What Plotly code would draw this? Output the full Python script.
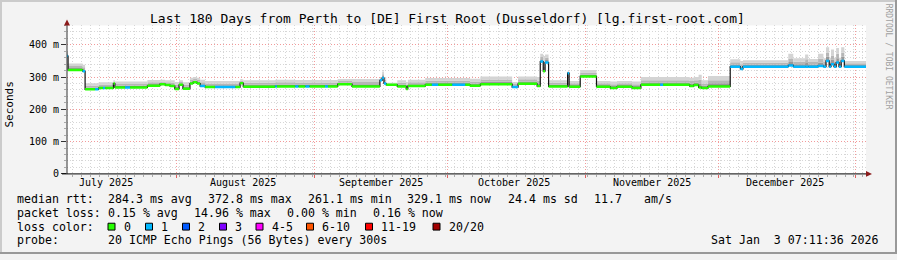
import plotly.graph_objects as go

W, H = 897, 260

# ---------------- data ----------------
start_time = "2025-07-07 07:11:36"
end_time = "2026-01-03 07:11:36"

seg_start = [
    "2025-07-07 07:00", "2025-07-07 13:00", "2025-07-10 20:00", "2025-07-11 09:00",
    "2025-07-13 15:00", "2025-07-14 10:00", "2025-07-15 10:00", "2025-07-15 21:00",
    "2025-07-17 18:00", "2025-07-18 02:00", "2025-07-20 09:00", "2025-07-21 12:00",
    "2025-07-25 10:00", "2025-07-28 06:00", "2025-07-29 10:00", "2025-07-30 12:00",
    "2025-07-31 14:00", "2025-08-01 13:00", "2025-08-02 10:00", "2025-08-04 00:00",
    "2025-08-04 17:00", "2025-08-05 14:00", "2025-08-06 07:00", "2025-08-07 10:00",
    "2025-08-09 16:00", "2025-08-14 05:00", "2025-08-15 07:00", "2025-08-16 00:00",
    "2025-08-23 05:00", "2025-08-23 14:00", "2025-08-27 17:00", "2025-08-28 10:00",
    "2025-08-30 00:00", "2025-08-30 22:00", "2025-09-03 10:00", "2025-09-04 02:00",
    "2025-09-06 07:00", "2025-09-09 12:00", "2025-09-15 19:00", "2025-09-16 07:00",
    "2025-09-16 17:00", "2025-09-17 05:00", "2025-09-19 17:00", "2025-09-21 17:00",
    "2025-09-22 02:00", "2025-09-26 00:00", "2025-09-27 12:00", "2025-09-28 22:00",
    "2025-10-02 02:00", "2025-10-05 00:00", "2025-10-06 02:00", "2025-10-08 10:00",
    "2025-10-15 14:00", "2025-10-16 22:00", "2025-10-21 05:00", "2025-10-21 22:00",
    "2025-10-22 14:00", "2025-10-23 00:00", "2025-10-23 19:00", "2025-10-28 02:00",
    "2025-10-28 10:00", "2025-10-30 22:00", "2025-11-03 14:00", "2025-11-06 17:00",
    "2025-11-08 05:00", "2025-11-11 14:00", "2025-11-13 14:00", "2025-11-17 22:00",
    "2025-11-18 14:00", "2025-11-24 14:00", "2025-11-25 12:00", "2025-11-26 14:00",
    "2025-11-27 07:00", "2025-11-28 17:00", "2025-12-03 17:00", "2025-12-06 00:00",
    "2025-12-06 14:00", "2025-12-16 19:00", "2025-12-17 22:00", "2025-12-20 14:00",
    "2025-12-21 07:00", "2025-12-23 12:00", "2025-12-24 17:00", "2025-12-25 07:00",
    "2025-12-26 00:00", "2025-12-26 10:00", "2025-12-27 02:00", "2025-12-27 14:00",
    "2025-12-28 05:00", "2025-12-28 17:00", "2025-12-29 10:00",
]
median_ms = [
    365, 322, 318, 262, 262, 266, 266, 266, 280, 268, 268, 268, 273, 278, 275, 272,
    263, 276, 264, 280, 284, 280, 272, 269, 269, 269, 281, 270, 271, 271, 271, 271,
    271, 271, 271, 271, 278, 271, 290, 297, 280, 276, 271, 263, 272, 276, 276, 276,
    276, 276, 273, 278, 269, 279, 272, 348, 318, 345, 271, 312, 270, 302, 270, 266,
    270, 266, 276, 276, 276, 272, 275, 268, 266, 271, 332, 325, 332, 336, 332, 332,
    332, 334, 332, 350, 332, 340, 332, 345, 332, 350, 332,
]
smoke_top_ms = [
    380, 342, 338, 281, 281, 284, 284, 284, 290, 286, 286, 286, 291, 292, 290, 290,
    285, 290, 284, 298, 300, 298, 292, 288, 288, 288, 293, 290, 292, 292, 291, 291,
    291, 291, 291, 291, 294, 294, 300, 317, 300, 282, 290, 285, 292, 297, 297, 297,
    297, 297, 295, 302, 285, 302, 300, 372, 365, 370, 290, 318, 288, 322, 288, 286,
    288, 286, 300, 300, 300, 298, 300, 307, 290, 303, 355, 350, 352, 372, 358, 370,
    356, 372, 358, 392, 360, 385, 360, 390, 360, 392, 350,
]
loss_pings = [
    1, 0, 1, 0, 1, 0, 1, 0, 0, 0, 1, 0, 0, 0, 0, 0,
    0, 0, 0, 0, 0, 0, 1, 0, 1, 0, 0, 0, 1, 0, 1, 0,
    1, 0, 1, 0, 0, 0, 1, 1, 1, 0, 0, 0, 0, 0, 1, 0,
    1, 0, 0, 0, 1, 0, 0, 1, 0, 1, 0, 1, 0, 0, 0, 0,
    0, 0, 0, 1, 0, 0, 0, 0, 0, 0, 1, 1, 1, 1, 1, 1,
    1, 1, 1, 1, 1, 1, 1, 1, 1, 1, 1,
]

month_starts = ["2025-08-01", "2025-09-01", "2025-10-01", "2025-11-01", "2025-12-01", "2026-01-01"]
month_label_pos = ["2025-07-16 00:00", "2025-08-16 00:00", "2025-09-16 00:00",
                   "2025-10-16 00:00", "2025-11-16 00:00", "2025-12-16 00:00"]
month_labels = ["July 2025", "August 2025", "September 2025",
                "October 2025", "November 2025", "December 2025"]

y_tick_vals = [0, 100, 200, 300, 400]
y_tick_text = ["0", "100 m", "200 m", "300 m", "400 m"]

loss_labels = ["0", "1", "2", "3", "4-5", "6-10", "11-19", "20/20"]
loss_colors = ["#26ff00", "#00b8ff", "#0059ff", "#7e00ff", "#ff00ff", "#ff5500", "#ff0000", "#a10000"]
loss_bucket_max = [0, 1, 2, 3, 5, 10, 19, 20]

stats_rtt = ["median rtt:", "284.3 ms avg", "372.8 ms max", "261.1 ms min",
             "329.1 ms now", "24.4 ms sd", "11.7", "am/s"]
stats_loss = ["packet loss:", "0.15 % avg", "14.96 % max", "0.00 % min", "0.16 % now"]
probe_text = ["probe:", "20 ICMP Echo Pings (56 Bytes) every 300s"]
stamp_text = "Sat Jan\u00a0\u00a03 07:11:36 2026"
title_text = "Last 180 Days from Perth to [DE] First Root (Dusseldorf) [lg.first-root.com]"

# ---------------- helpers ----------------
MONO = "DejaVu Sans Mono"


def px(x):
    return x / W


def py(y):
    return 1 - y / H


def bucket(n):
    for i, m in enumerate(loss_bucket_max):
        if n <= m:
            return i
    return len(loss_bucket_max) - 1


xs = seg_start + [end_time]
med = median_ms + [median_ms[-1]]
top = smoke_top_ms + [smoke_top_ms[-1]]
band1 = [m + 0.3 * (t - m) for m, t in zip(med, top)]
band2 = [m + 0.6 * (t - m) for m, t in zip(med, top)]

fig = go.Figure()

# smoke
fig.add_trace(go.Scatter(x=xs, y=med, mode="lines", line=dict(width=0, shape="hv"),
                         hoverinfo="skip", showlegend=False))
for yy, col in [(band1, "#989898"), (band2, "#b6b6b6"), (top, "#d4d4d4")]:
    fig.add_trace(go.Scatter(x=xs, y=yy, mode="lines", fill="tonexty", fillcolor=col,
                             line=dict(width=0, shape="hv"), hoverinfo="skip", showlegend=False))

# median transitions
fig.add_trace(go.Scatter(x=xs, y=med, mode="lines", line=dict(width=1.2, shape="hv", color="#111111"),
                         hoverinfo="skip", showlegend=False))

# colored median segments by loss
for b, color in enumerate(loss_colors):
    sx, sy = [], []
    for i, n in enumerate(loss_pings):
        if bucket(n) == b:
            sx += [xs[i], xs[i + 1], None]
            sy += [med[i], med[i], None]
    if sx:
        fig.add_trace(go.Scatter(x=sx, y=sy, mode="lines", line=dict(width=2.5, color=color),
                                 hoverinfo="skip", showlegend=False))

GRID_MINOR = "#d6d6d6"
GRID_MAJOR = "#f29a9a"
DASH = "1px,2px"

fig.update_layout(
    width=W, height=H, margin=dict(l=0, r=0, t=0, b=0),
    paper_bgcolor="#f3f3f3", plot_bgcolor="#ffffff", showlegend=False,
    xaxis=dict(
        type="date", range=[start_time, end_time], domain=[px(67), px(866)],
        tickmode="array", tickvals=month_starts, showticklabels=False,
        showgrid=True, gridcolor=GRID_MAJOR, griddash=DASH, gridwidth=1,
        ticks="outside", ticklen=3, tickcolor="#e06060", zeroline=False, showline=False,
        minor=dict(tick0="2025-07-08 14:00", dtick=2 * 86400000, showgrid=True,
                   gridcolor=GRID_MINOR, griddash=DASH, ticks="outside", ticklen=2,
                   tickcolor="#aaaaaa"),
    ),
    yaxis=dict(
        range=[0, 460], domain=[py(178), py(26)],
        tickmode="array", tickvals=y_tick_vals, ticktext=y_tick_text,
        tickfont=dict(family=MONO, size=10, color="#000"),
        showgrid=True, gridcolor=GRID_MAJOR, griddash=DASH, gridwidth=1,
        ticks="outside", ticklen=5, tickcolor="#333", zeroline=False, showline=False,
        minor=dict(dtick=20, showgrid=True, gridcolor=GRID_MINOR, griddash=DASH,
                   ticks="outside", ticklen=2, tickcolor="#aaaaaa"),
    ),
)

shapes = []
# axis lines
shapes.append(dict(type="line", xref="paper", yref="paper", x0=px(67), x1=px(67),
                   y0=py(178), y1=py(24), line=dict(color="#333", width=1)))
shapes.append(dict(type="line", xref="paper", yref="paper", x0=px(62), x1=px(868),
                   y0=py(178), y1=py(178), line=dict(color="#000", width=1)))
# arrows
shapes.append(dict(type="path", xref="paper", yref="paper",
                   path=f"M {px(64)},{py(26)} L {px(67)},{py(20)} L {px(70)},{py(26)} Z",
                   fillcolor="#8b1a1a", line=dict(width=0)))
shapes.append(dict(type="path", xref="paper", yref="paper",
                   path=f"M {px(866)},{py(175)} L {px(872)},{py(178)} L {px(866)},{py(181)} Z",
                   fillcolor="#8b1a1a", line=dict(width=0)))
# frame shading
shapes.append(dict(type="rect", xref="paper", yref="paper", x0=0, x1=1, y0=py(2), y1=1,
                   fillcolor="#cbcbcb", line=dict(width=0)))
shapes.append(dict(type="rect", xref="paper", yref="paper", x0=0, x1=px(2), y0=0, y1=1,
                   fillcolor="#cbcbcb", line=dict(width=0)))
shapes.append(dict(type="rect", xref="paper", yref="paper", x0=0, x1=1, y0=0, y1=py(258),
                   fillcolor="#999999", line=dict(width=0)))
shapes.append(dict(type="rect", xref="paper", yref="paper", x0=px(895), x1=1, y0=0, y1=1,
                   fillcolor="#999999", line=dict(width=0)))

ann = []


def text(x, y, s, size=11.6, anchor="left", color="#000", angle=0, family=MONO):
    ann.append(dict(xref="paper", yref="paper", x=px(x), y=py(y), text=s, showarrow=False,
                    xanchor=anchor, yanchor="middle", textangle=angle,
                    font=dict(family=family, size=size, color=color), borderpad=0))


text(447, 19, title_text, size=13, anchor="center")
text(10, 107, "Seconds", size=11, anchor="center", angle=-90)
text(888, 58, "RRDTOOL / TOBI OETIKER", size=8, anchor="center", angle=90, color="#a0a0a0")

# month labels along the time axis
for pos, lab in zip(month_label_pos, month_labels):
    ann.append(dict(xref="x", yref="paper", x=pos, y=py(187), text=lab, showarrow=False,
                    xanchor="center", yanchor="middle", font=dict(family=MONO, size=10, color="#000")))

rtt_x = [16, 107, 207, 307, 406, 507, 593, 643]
for xx, s in zip(rtt_x, stats_rtt):
    text(xx, 204, s)
loss_x = [16, 107, 193, 286, 372]
for xx, s in zip(loss_x, stats_loss):
    text(xx, 218, s)
text(16, 232, "loss color:")
box_x = [108, 145.5, 182.5, 219.5, 256, 306.5, 365.5, 433]
for bx, col, lab in zip(box_x, loss_colors, loss_labels):
    shapes.append(dict(type="rect", xref="paper", yref="paper", x0=px(bx), x1=px(bx + 7),
                       y0=py(235.5), y1=py(228.5), fillcolor=col, line=dict(color="#000", width=1)))
    text(bx + 14.5, 232, lab)
text(16, 246, probe_text[0])
text(107, 246, probe_text[1])
text(880, 246, stamp_text, anchor="right")

fig.update_layout(shapes=shapes, annotations=ann)
fig.write_html("out.html")
